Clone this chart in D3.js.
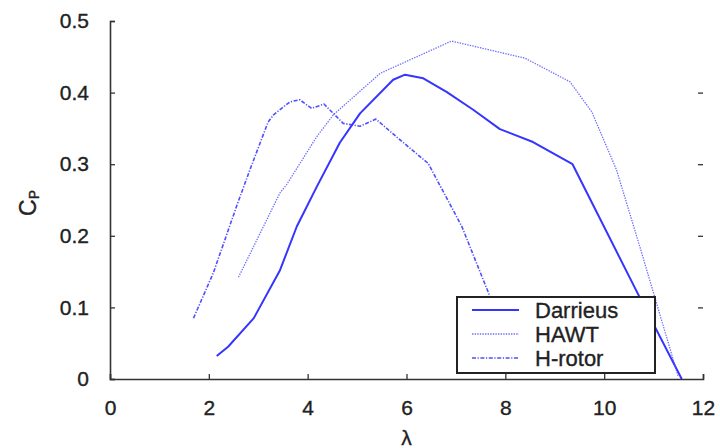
<!DOCTYPE html>
<html>
<head>
<meta charset="utf-8">
<script src="https://cdn.jsdelivr.net/npm/d3@7"></script>
<style>
  body { margin: 0; background: #fff; }
  text { font-family: "Liberation Sans", Arial, sans-serif; fill: #222; stroke: #222; stroke-width: 0.35px; }
</style>
</head>
<body>
<div id="chart"></div>
<script>
const W = 720, H = 448;

// series: [lambda, Cp]
const darrieus = [[2.16,0.032],[2.39,0.045],[2.91,0.085],[3.44,0.152],[3.78,0.213],[4.18,0.268],
  [4.65,0.33],[5.06,0.371],[5.73,0.418],[5.97,0.425],[6.34,0.42],[6.81,0.401],[7.35,0.376],
  [7.89,0.349],[8.56,0.331],[9.36,0.300],[10.66,0.122],[11.57,0.0]];
const hawt = [[2.60,0.142],[3.44,0.26],[3.57,0.271],[4.18,0.338],[4.52,0.369],[5.47,0.427],
  [6.91,0.472],[8.40,0.448],[9.31,0.415],[9.75,0.373],[10.25,0.292],[10.66,0.199],
  [11.06,0.106],[11.5,0.003]];
const hrotor = [[1.69,0.085],[2.09,0.148],[2.56,0.241],[2.83,0.292],[3.20,0.359],[3.31,0.369],
  [3.64,0.387],[3.84,0.390],[4.08,0.378],[4.33,0.384],[4.72,0.357],[5.06,0.353],[5.38,0.363],
  [5.87,0.334],[6.44,0.301],[7.12,0.213],[7.69,0.115],[8.3,0.01]];

const seriesNames = ["Darrieus", "HAWT", "H-rotor"];
const xTicks = [0, 2, 4, 6, 8, 10, 12];
const yTicks = [0, 0.1, 0.2, 0.3, 0.4, 0.5];

const margin = {left: 110, right: 17, top: 21, bottom: 69};

const svg = d3.select("#chart").append("svg")
    .attr("width", W).attr("height", H);

const x = d3.scaleLinear().domain([0, 12]).range([margin.left, W - margin.right]);
const y = d3.scaleLinear().domain([0, 0.5]).range([H - margin.bottom, margin.top]);

const styles = [
  {stroke: "#3535ff", width: 2, dash: null, opacity: 1},
  {stroke: "#5555ff", width: 1.3, dash: "1.4,1.2", opacity: 0.85},
  {stroke: "#3c3cff", width: 1.6, dash: "4,1.6,1.2,1.6", opacity: 0.9}
];

const line = d3.line().x(d => x(d[0])).y(d => y(d[1]));

[darrieus, hawt, hrotor].forEach((s, i) => {
  svg.append("path")
    .datum(s)
    .attr("d", line)
    .attr("fill", "none")
    .attr("stroke", styles[i].stroke)
    .attr("stroke-width", styles[i].width)
    .attr("stroke-dasharray", styles[i].dash)
    .attr("stroke-opacity", styles[i].opacity)
    .attr("stroke-linejoin", "round");
});

// axes, ticks drawn inward
const xAxis = svg.append("g")
  .attr("transform", `translate(0,${y(0)})`)
  .call(d3.axisBottom(x).tickValues(xTicks).tickSize(-5).tickPadding(21).tickFormat(d3.format("d")));
const yAxis = svg.append("g")
  .attr("transform", `translate(${x(0)},0)`)
  .call(d3.axisLeft(y).tickValues(yTicks).tickSize(-5).tickPadding(21)
    .tickFormat(d => d === 0 ? "0" : d3.format(".1f")(d)));
const yRight = svg.append("g")
  .attr("transform", `translate(${x(12)},0)`)
  .call(d3.axisRight(y).tickValues(yTicks.slice(1, 5)).tickSize(-5).tickFormat(""));
yRight.select(".domain").remove();

[xAxis, yAxis, yRight].forEach(g => {
  g.select(".domain").attr("stroke", "#333").attr("stroke-width", 1.6);
  g.selectAll(".tick line").attr("stroke", "#333").attr("stroke-width", 1.3);
});
xAxis.selectAll(".tick text").attr("font-size", 21).attr("fill", "#222")
  .attr("dy", "0.71em");
yAxis.selectAll(".tick text").attr("font-size", 21).attr("fill", "#222");

// axis titles
svg.append("text")
  .attr("x", x(6)).attr("y", 445)
  .attr("text-anchor", "middle").attr("font-size", 21)
  .text("λ");

const cp = svg.append("text")
  .attr("transform", `translate(36,203) rotate(-90)`)
  .attr("text-anchor", "middle").attr("font-size", 23);
cp.append("tspan").text("C");
cp.append("tspan").attr("font-size", 14).attr("dy", 3).text("P");

// legend
const lg = svg.append("g").attr("transform", "translate(457,297)");
lg.append("rect")
  .attr("width", 198).attr("height", 76)
  .attr("fill", "#fff").attr("stroke", "#222").attr("stroke-width", 2);

seriesNames.forEach((name, i) => {
  const ry = 13 + i * 24;
  lg.append("line")
    .attr("x1", 15).attr("x2", 62).attr("y1", ry).attr("y2", ry)
    .attr("stroke", styles[i].stroke)
    .attr("stroke-width", styles[i].width)
    .attr("stroke-dasharray", styles[i].dash)
    .attr("stroke-opacity", styles[i].opacity);
  lg.append("text")
    .attr("x", 78).attr("y", ry + 8)
    .attr("font-size", 22)
    .text(name);
});
</script>
</body>
</html>
